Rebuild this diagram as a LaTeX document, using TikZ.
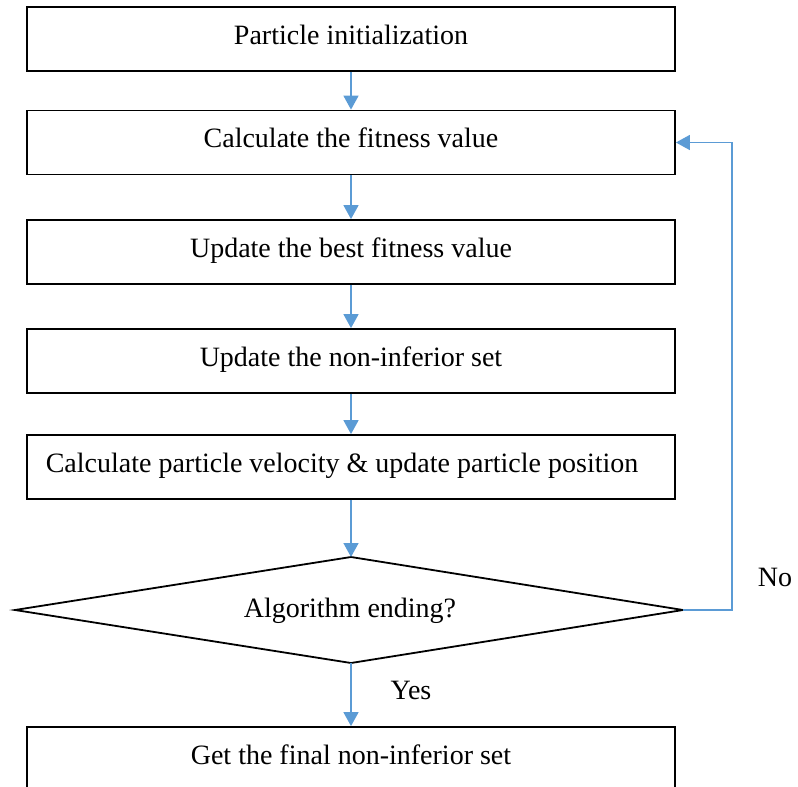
\documentclass[tikz,border=0pt]{standalone}
\usepackage{fontspec}
\setmainfont{Liberation Serif}
\usetikzlibrary{arrows.meta}
\definecolor{flowblue}{HTML}{5B9BD5}
\begin{document}
\begin{tikzpicture}[x=1pt,y=-1pt,
  every node/.style={font=\fontsize{28}{32}\selectfont},
  stepbox/.style={draw=black, line width=1.8pt, rectangle, minimum width=648pt,
    minimum height=64pt, inner sep=0pt, text height=19pt, text depth=9pt},
  flow/.style={draw=flowblue, line width=1.6pt,
    -{Triangle[width=15pt,length=14pt]}},
  tag/.style={inner sep=0pt}]
\useasboundingbox (0,0) rectangle (798,787);

% process boxes
\node[stepbox] (b1) at (351,39) {Particle initialization};
\node[stepbox] (b2) at (351,142.5) {Calculate the fitness value};
\node[stepbox] (b3) at (351,252) {Update the best fitness value};
\node[stepbox] (b4) at (351,361) {Update the non-inferior set};
\node[stepbox] (b5) at (351,467)
  {Calculate particle velocity \& update particle position\hspace*{18pt}};
\node[stepbox] (b6) at (351,759) {Get the final non-inferior set};

% decision diamond
\coordinate (dT) at (351,557);
\coordinate (dB) at (351,663);
\coordinate (dL) at (15,610);
\coordinate (dR) at (683,610);
\draw[line width=1.8pt, line join=miter] (dT) -- (dR) -- (dB) -- (dL) -- cycle;
\node[inner sep=0pt, text height=19pt, text depth=6pt] (dtext) at (350,611) {Algorithm ending?};

% connectors
\draw[flow] (b1.south) -- (b2.north);
\draw[flow] (b2.south) -- (b3.north);
\draw[flow] (b3.south) -- (b4.north);
\draw[flow] (b4.south) -- (b5.north);
\draw[flow] (b5.south) -- (dT);
\draw[flow] (dB) -- (b6.north);
\coordinate (loopA) at (732,610);
\coordinate (loopB) at (732,142.5);
\draw[flow] (dR) -- (loopA) -- (loopB) -- (b2.east);

% branch labels
\node[tag] (no) at (775,577) {No};
\node[tag] (yes) at (411,690) {Yes};
\end{tikzpicture}
\end{document}
